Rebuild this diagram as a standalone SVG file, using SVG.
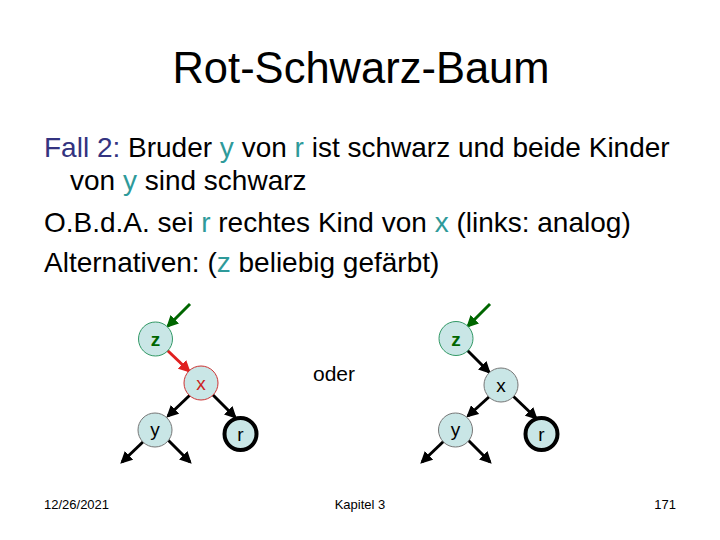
<svg xmlns="http://www.w3.org/2000/svg" width="720" height="540" viewBox="0 0 720 540">
<defs>
<style>
text{font-family:"Liberation Sans",Arial,sans-serif;}
.body{font-size:28px;fill:#000;}
.t{fill:#2e9a9a;}
.node{fill:#c9e6e6;stroke:#777;stroke-width:1;}
.lbl{font-size:19px;text-anchor:middle;fill:#000;}
.edge{stroke:#000;stroke-width:3;fill:none;marker-end:url(#ab);}
.foot{font-size:13px;fill:#000;}
</style>
<marker id="ab" viewBox="0 0 10 10" refX="8" refY="5" markerWidth="4" markerHeight="4" orient="auto"><path d="M0,0 L10,5 L0,10 z" fill="#000"/></marker>
<marker id="ag" viewBox="0 0 10 10" refX="8" refY="5" markerWidth="4" markerHeight="4" orient="auto"><path d="M0,0 L10,5 L0,10 z" fill="#006600"/></marker>
<marker id="ar" viewBox="0 0 10 10" refX="8" refY="5" markerWidth="4" markerHeight="4" orient="auto"><path d="M0,0 L10,5 L0,10 z" fill="#e02020"/></marker>
</defs>
<rect width="720" height="540" fill="#fff"/>
<text x="361" y="83" font-size="43.5" text-anchor="middle">Rot-Schwarz-Baum</text>
<text class="body" x="44" y="157"><tspan fill="#333380">Fall 2:</tspan> Bruder <tspan class="t">y</tspan> von <tspan class="t">r</tspan> ist schwarz und beide Kinder</text>
<text class="body" x="70" y="190">von <tspan class="t">y</tspan> sind schwarz</text>
<text class="body" x="44" y="232">O.B.d.A. sei <tspan class="t">r</tspan> rechtes Kind von <tspan class="t">x</tspan> (links: analog)</text>
<text class="body" x="44" y="272">Alternativen: (<tspan class="t">z</tspan> beliebig gefärbt)</text>
<g id="connectors">
<line x1="190" y1="304" x2="168" y2="326" stroke="#006600" stroke-width="3" marker-end="url(#ag)"/>
<line x1="167" y1="350" x2="189" y2="371" stroke="#e02020" stroke-width="3" marker-end="url(#ar)"/>
<line class="edge" x1="190" y1="395" x2="168" y2="416"/>
<line class="edge" x1="213" y1="395" x2="235" y2="417"/>
<line class="edge" x1="145" y1="440" x2="122" y2="462"/>
<line class="edge" x1="168" y1="440" x2="190" y2="462"/>
<line x1="490" y1="304" x2="468" y2="326" stroke="#006600" stroke-width="3" marker-end="url(#ag)"/>
<line class="edge" x1="467" y1="350" x2="489" y2="372"/>
<line class="edge" x1="490" y1="396" x2="468" y2="416"/>
<line class="edge" x1="513" y1="396" x2="536" y2="418"/>
<line class="edge" x1="445" y1="440" x2="422" y2="462"/>
<line class="edge" x1="468" y1="440" x2="490" y2="462"/>
</g>
<g id="L_z"><circle cx="155.5" cy="339" r="17" class="node" style="stroke:#339966"/><text x="155.5" y="346" class="lbl" style="fill:#006600;font-weight:bold">z</text></g>
<g id="L_x"><circle cx="201" cy="383" r="17" class="node" style="stroke:#cc3333"/><text x="201" y="390" class="lbl" style="fill:#cc2222">x</text></g>
<g id="L_y"><circle cx="155" cy="430" r="17" class="node"/><text x="155" y="436" class="lbl">y</text></g>
<g id="L_r"><circle cx="240.5" cy="434" r="16" class="node" style="stroke:#000;stroke-width:4"/><text x="240.5" y="441" class="lbl">r</text></g>
<text x="334" y="381" font-size="21" text-anchor="middle">oder</text>
<g id="R_z"><circle cx="456" cy="338.5" r="17" class="node" style="stroke:#339966"/><text x="456" y="345.5" class="lbl" style="fill:#006600;font-weight:bold">z</text></g>
<g id="R_x"><circle cx="501" cy="385" r="17" class="node"/><text x="501" y="392" class="lbl">x</text></g>
<g id="R_y"><circle cx="455.5" cy="430" r="17" class="node"/><text x="455.5" y="436" class="lbl">y</text></g>
<g id="R_r"><circle cx="541.5" cy="434" r="16" class="node" style="stroke:#000;stroke-width:4"/><text x="541.5" y="441" class="lbl">r</text></g>
<text class="foot" x="44" y="509">12/26/2021</text>
<text class="foot" x="360" y="509" text-anchor="middle">Kapitel 3</text>
<text class="foot" x="676" y="509" text-anchor="end">171</text>
</svg>
